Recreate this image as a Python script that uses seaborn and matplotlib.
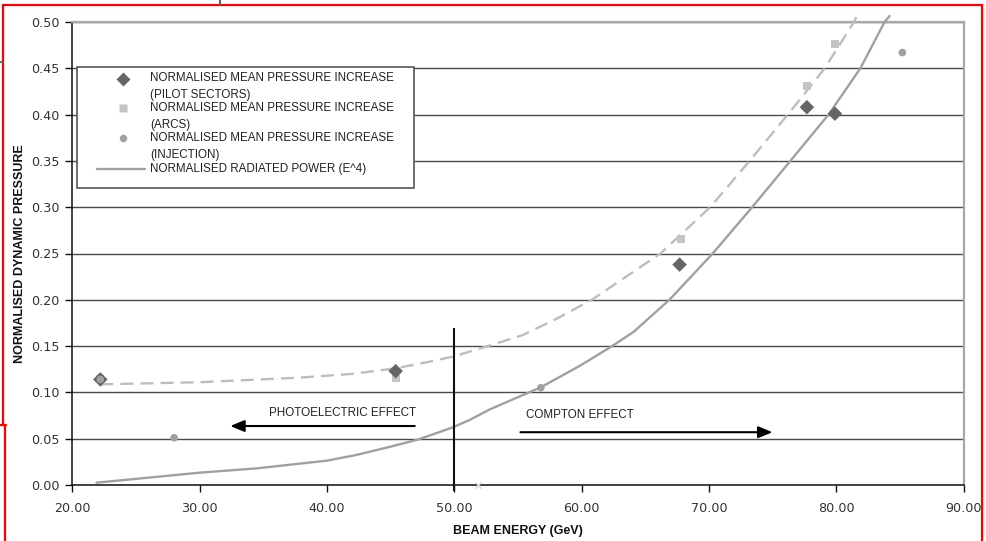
import numpy as np
import pandas as pd
import matplotlib
matplotlib.use("Agg")
import matplotlib.pyplot as plt
import seaborn as sns
from matplotlib.lines import Line2D
from matplotlib.patches import Rectangle

# ---------------- data ----------------
pilot_energy = [22.2, 45.4, 67.7, 77.7, 79.9]
pilot_pressure = [0.114, 0.123, 0.238, 0.408, 0.401]

arcs_energy = [22.2, 45.4, 67.8, 77.7, 79.9]
arcs_pressure = [0.115, 0.115, 0.266, 0.431, 0.476]

injection_energy = [22.2, 28.0, 56.8, 85.2]
injection_pressure = [0.114, 0.051, 0.105, 0.467]

stray_energy = [51.9]
stray_pressure = [0.0]

power_energy = [21.9, 30.0, 34.5, 40.0, 42.3, 45.0, 47.2, 49.9, 51.2, 52.8, 56.8,
                59.9, 62.4, 64.1, 66.9, 70.3, 73.4, 76.4, 79.4, 81.9, 83.8, 84.2]
power_value = [0.0025, 0.0133, 0.018, 0.0263, 0.0324, 0.0414, 0.0493, 0.0623, 0.0702, 0.0817, 0.1055,
               0.129, 0.150, 0.1655, 0.200, 0.250, 0.300, 0.350, 0.400, 0.450, 0.500, 0.5065]

trend_energy = [22.2, 30.0, 37.9, 42.0, 45.4, 48.0, 50.0, 53.1, 55.4, 58.1,
                60.8, 66.2, 70.1, 73.2, 76.2, 79.1, 81.4, 81.6]
trend_value = [0.1087, 0.111, 0.116, 0.120, 0.126, 0.133, 0.139, 0.152, 0.162, 0.180,
               0.200, 0.250, 0.300, 0.350, 0.400, 0.450, 0.500, 0.5057]

x_ticks = [20, 30, 40, 50, 60, 70, 80, 90]
y_ticks = [0.00, 0.05, 0.10, 0.15, 0.20, 0.25, 0.30, 0.35, 0.40, 0.45, 0.50]

boundary_energy = 50.0
boundary_top = 0.17

photo_label = "PHOTOELECTRIC EFFECT"
compton_label = "COMPTON EFFECT"
photo_text_pos = (41.2, 0.0774)
photo_arrow = ((46.9, 0.0637), (32.4, 0.0637))
compton_text_pos = (59.9, 0.0755)
compton_arrow = ((55.2, 0.057), (75.0, 0.057))

legend_labels = [
    ["NORMALISED MEAN PRESSURE INCREASE", "(PILOT SECTORS)"],
    ["NORMALISED MEAN PRESSURE INCREASE", "(ARCS)"],
    ["NORMALISED MEAN PRESSURE INCREASE", "(INJECTION)"],
    ["NORMALISED RADIATED POWER (E^4)"],
]

# ---------------- style ----------------
sns.set_theme(style="white")
plt.rcParams['font.family'] = ['Liberation Sans', 'DejaVu Sans']

W, H = 986, 541
fig = plt.figure(figsize=(W / 100, H / 100), dpi=100)
ax_l, ax_r, ax_t, ax_b = 72.3, 963.5, 22.0, 485.0
ax = fig.add_axes([ax_l / W, 1 - ax_b / H, (ax_r - ax_l) / W, (ax_b - ax_t) / H])

ax.set_xlim(20, 90)
ax.set_ylim(0, 0.5)
ax.set_xticks(x_ticks)
ax.set_xticklabels([f"{v:.2f}" for v in x_ticks])
ax.set_yticks(y_ticks)
ax.set_yticklabels([f"{v:.2f}" for v in y_ticks])

ax.yaxis.grid(True, color='#4a4a4a', lw=1.0, zorder=0)
ax.xaxis.grid(False)
ax.set_axisbelow(True)

for s in ['left', 'bottom']:
    ax.spines[s].set_color('#111111')
    ax.spines[s].set_linewidth(1.1)
for s in ['top', 'right']:
    ax.spines[s].set_color('#a8a8a8')
    ax.spines[s].set_linewidth(1.6)

ax.tick_params(axis='both', which='major', direction='out', length=5, width=1,
               color='#111111', labelcolor='#333333', labelsize=9.2,
               left=True, bottom=True)
ax.tick_params(axis='x', pad=7)
ax.tick_params(axis='y', pad=4)
for lbl in ax.get_xticklabels() + ax.get_yticklabels():
    lbl.set_family('DejaVu Sans')

# ---------------- curves ----------------
sns.lineplot(x=power_energy, y=power_value, ax=ax, color='#a0a0a0', lw=1.7,
             sort=False, estimator=None, clip_on=False, zorder=3)
sns.lineplot(x=trend_energy, y=trend_value, ax=ax, color='#bdbdbd', lw=1.7,
             sort=False, estimator=None, clip_on=False, zorder=3,
             linestyle=(0, (5.5, 3)))

# ---------------- points ----------------
sns.scatterplot(x=arcs_energy, y=arcs_pressure, ax=ax, marker='s', s=32,
                color='#c4c4c4', edgecolor='none', zorder=4)
sns.scatterplot(x=pilot_energy, y=pilot_pressure, ax=ax, marker='D', s=55,
                color='#666666', edgecolor='none', zorder=5)
sns.scatterplot(x=injection_energy, y=injection_pressure, ax=ax, marker='o', s=30,
                color='#a0a0a0', edgecolor='none', zorder=6)
sns.scatterplot(x=stray_energy, y=stray_pressure, ax=ax, marker='x', s=22,
                color='#d8d8d8', linewidth=1.0, zorder=6, clip_on=False)

# ---------------- boundary & annotations ----------------
ax.vlines(boundary_energy, -0.007, boundary_top, color='#111111', lw=1.5,
          zorder=5, clip_on=False)

ax.text(*photo_text_pos, photo_label, ha='center', va='center', fontsize=8.4,
        color='#222222', zorder=6)
ax.text(*compton_text_pos, compton_label, ha='center', va='center', fontsize=8.4,
        color='#222222', zorder=6)
arrow_props = dict(arrowstyle='-|>,head_length=0.85,head_width=0.35', color='black',
                   lw=1.5, mutation_scale=10, shrinkA=0, shrinkB=0)
ax.annotate('', xy=photo_arrow[1], xytext=photo_arrow[0], arrowprops=arrow_props, zorder=6)
ax.annotate('', xy=compton_arrow[1], xytext=compton_arrow[0], arrowprops=arrow_props, zorder=6)

# ---------------- axis labels ----------------
ax.set_xlabel("BEAM ENERGY (GeV)", fontsize=9, fontweight='bold', color='#111111')
ax.xaxis.set_label_coords(0.5, (ax_b - 530.7) / (ax_b - ax_t))
ax.xaxis.label.set_va('center')
ax.set_ylabel("NORMALISED DYNAMIC PRESSURE", fontsize=9, fontweight='bold', color='#111111')
ax.yaxis.set_label_coords((20.0 - ax_l) / (ax_r - ax_l), 0.5)
ax.yaxis.label.set_va('center')
ax.yaxis.label.set_ha('center')

# ---------------- legend (drawn box) ----------------
def ax_x(px):
    return (px - ax_l) / (ax_r - ax_l)

def ax_y(py):
    return (ax_b - py) / (ax_b - ax_t)

leg_box = Rectangle((ax_x(76.7), ax_y(188.0)), ax_x(414.0) - ax_x(76.7),
                    ax_y(67.5) - ax_y(188.0), transform=ax.transAxes,
                    facecolor='white', edgecolor='#555555', lw=1.2, zorder=7)
ax.add_patch(leg_box)

text_x = ax_x(150.0)
line_rows = [(78.0, 95.0), (108.3, 125.0), (137.7, 155.0), (169.0,)]
for rows, labels in zip(line_rows, legend_labels):
    for py, lab in zip(rows, labels):
        ax.text(text_x, ax_y(py), lab, transform=ax.transAxes, ha='left', va='center',
                fontsize=8.4, color='#222222', zorder=8)

mk_x = ax_x(123.0)
ax.add_line(Line2D([mk_x], [ax_y(78.7)], marker='D', ms=7.5, color='#666666',
                   mec='none', ls='none', transform=ax.transAxes, zorder=8))
ax.add_line(Line2D([mk_x], [ax_y(108.3)], marker='s', ms=5.6, color='#c4c4c4',
                   mec='none', ls='none', transform=ax.transAxes, zorder=8))
ax.add_line(Line2D([mk_x], [ax_y(138.3)], marker='o', ms=5.4, color='#a0a0a0',
                   mec='none', ls='none', transform=ax.transAxes, zorder=8))
ax.add_line(Line2D([ax_x(97.0), ax_x(145.0)], [ax_y(168.5), ax_y(168.5)], color='#a0a0a0',
                   lw=1.7, transform=ax.transAxes, zorder=8))

# ---------------- screenshot frame ----------------
def fx(px):
    return px / W

def fy(py):
    return 1 - py / H

frame_segments = [
    ((3.3, 4.7), (981.5, 4.7)),
    ((981.5, 4.7), (981.5, 541.0)),
    ((3.3, 4.7), (3.3, 425.0)),
    ((0.0, 425.0), (6.0, 425.0)),
    ((5.0, 425.0), (5.0, 541.0)),
]
for (x0, y0), (x1, y1) in frame_segments:
    fig.add_artist(Line2D([fx(x0), fx(x1)], [fy(y0), fy(y1)], color='#ff0000',
                          lw=1.6, transform=fig.transFigure))
fig.add_artist(Line2D([fx(220), fx(220)], [fy(0), fy(4)], color='#666666', lw=1.5,
                      transform=fig.transFigure))
fig.add_artist(Line2D([fx(0), fx(3)], [fy(62), fy(62)], color='#555555', lw=1.2,
                      transform=fig.transFigure))

fig.savefig("out.png", dpi=100, facecolor='white')
